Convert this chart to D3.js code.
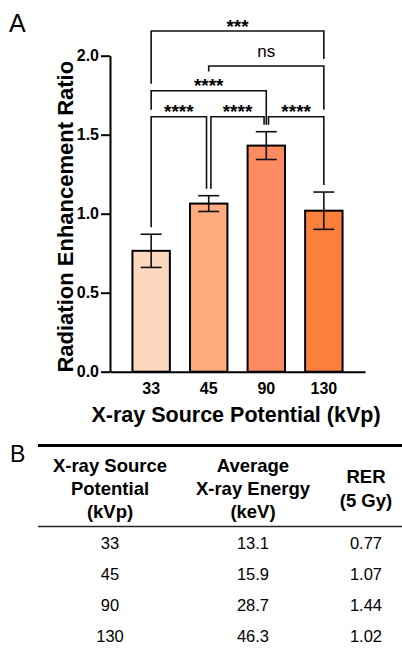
<!DOCTYPE html>
<html>
<head>
<meta charset="utf-8">
<script src="https://cdn.jsdelivr.net/npm/d3@7"></script>
<style>
  body { margin: 0; background: #fff; }
  text { font-family: "Liberation Sans", Arial, sans-serif; fill: #000; }
</style>
</head>
<body>
<div id="chart"></div>
<script>
// bar chart data
const kvp = ["33", "45", "90", "130"];
const rerMean = [0.765, 1.064, 1.431, 1.019];
const rerSd = [0.105, 0.05, 0.088, 0.118];
const barColors = ["#fdd8bf", "#fdab7f", "#fc8b61", "#fd7f3c"];
const yTicks = [0, 0.5, 1.0, 1.5, 2.0];

// significance comparisons (bar index pairs, label, bracket height in y units)
const compA = [0, 1, 0, 0, 1, 2];
const compB = [3, 3, 2, 1, 2, 3];
const compLabel = ["***", "ns", "****", "****", "****", "****"];
const compLevel = [2.156, 1.935, 1.778, 1.614, 1.614, 1.614];

// table data
const tableHead = [["X-ray Source", "Potential", "(kVp)"], ["Average", "X-ray Energy", "(keV)"], ["RER", "(5 Gy)"]];
const energy = ["13.1", "15.9", "28.7", "46.3"];
const rerText = ["0.77", "1.07", "1.44", "1.02"];

const width = 402;
const height = 650;

const svg = d3.select("#chart").append("svg")
    .attr("width", width)
    .attr("height", height);

// scales
const x = d3.scaleBand()
    .domain(kvp)
    .range([110, 365])
    .paddingInner(0.35)
    .paddingOuter(0.39);

const y = d3.scaleLinear()
    .domain([0, 2])
    .range([371.7, 55.7]);

const bw = x.bandwidth();
const cx = i => x(kvp[i]) + bw / 2;
const capW = 10.5;

// panel letters
svg.append("text").attr("x", 9).attr("y", 32).style("font-size", "25px").text("A");
svg.append("text").attr("x", 10).attr("y", 461.5).style("font-size", "23px").text("B");

// bars
svg.selectAll("rect.bar")
    .data(kvp)
    .enter()
    .append("rect")
    .attr("class", "bar")
    .attr("x", d => x(d))
    .attr("y", (d, i) => y(rerMean[i]))
    .attr("width", bw)
    .attr("height", (d, i) => y(0) - y(rerMean[i]))
    .attr("fill", (d, i) => barColors[i])
    .attr("stroke", "#000")
    .attr("stroke-width", 2);

// error bars
const err = svg.append("g").attr("stroke", "#111").attr("stroke-width", 1.6);
kvp.forEach((k, i) => {
    const hi = y(rerMean[i] + rerSd[i]);
    const lo = y(rerMean[i] - rerSd[i]);
    err.append("line").attr("x1", cx(i)).attr("x2", cx(i)).attr("y1", hi).attr("y2", lo);
    err.append("line").attr("x1", cx(i) - capW).attr("x2", cx(i) + capW).attr("y1", hi).attr("y2", hi);
    err.append("line").attr("x1", cx(i) - capW).attr("x2", cx(i) + capW).attr("y1", lo).attr("y2", lo);
});

// axes
const yAxis = svg.append("g")
    .attr("transform", "translate(110,0)")
    .call(d3.axisLeft(y).tickValues(yTicks).tickFormat(d3.format(".1f")).tickSize(9).tickSizeOuter(0).tickPadding(2));

const xAxis = svg.append("g")
    .attr("transform", `translate(0,${y(0)})`)
    .call(d3.axisBottom(x).tickSize(0).tickSizeOuter(0).tickPadding(11));

[yAxis, xAxis].forEach(g => {
    g.select(".domain").attr("stroke", "#000").attr("stroke-width", 2);
    g.selectAll(".tick line").attr("stroke", "#000").attr("stroke-width", 2);
    g.selectAll(".tick text")
        .style("font-family", "'Liberation Sans', Arial, sans-serif")
        .style("font-size", "16px")
        .style("font-weight", "bold")
        .attr("fill", "#000");
});

// axis titles
svg.append("text")
    .attr("transform", `translate(73,${(y(0) + y(2)) / 2 + 3}) rotate(-90)`)
    .attr("text-anchor", "middle")
    .style("font-size", "22px")
    .style("font-weight", "bold")
    .text("Radiation Enhancement Ratio");

svg.append("text")
    .attr("x", 236)
    .attr("y", 421.5)
    .attr("text-anchor", "middle")
    .style("font-size", "21.5px")
    .style("font-weight", "bold")
    .text("X-ray Source Potential (kVp)");

// significance brackets
const shared = (c, i) => compA.some((a, o) => o !== c && compLevel[o] === compLevel[c] && (a === i || compB[o] === i));

const brackets = compA.map((a, c) => {
    const b = compB[c];
    return {
        x1: cx(a) + (shared(c, a) ? 2.2 : 0),
        x2: cx(b) - (shared(c, b) ? 2.2 : 0),
        y: y(compLevel[c]),
        label: compLabel[c]
    };
});

// obstacles that bracket legs stop above
const obstacles = [];
kvp.forEach((k, i) => obstacles.push({ x1: cx(i) - capW, x2: cx(i) + capW, top: y(rerMean[i] + rerSd[i]) }));
brackets.forEach(br => obstacles.push({ x1: br.x1, x2: br.x2, top: br.y }));

const labels = svg.append("g");
brackets.forEach(br => {
    const isNs = br.label === "ns";
    const fs = isNs ? 17 : 19;
    const t = labels.append("text")
        .attr("x", (br.x1 + br.x2) / 2)
        .attr("y", isNs ? br.y - 8.7 : br.y + 1.5)
        .attr("text-anchor", "middle")
        .style("font-size", fs + "px")
        .style("font-weight", isNs ? "normal" : "bold")
        .text(br.label);
    if (!isNs) {
        const w = t.node().getComputedTextLength();
        const mid = (br.x1 + br.x2) / 2;
        obstacles.push({ x1: mid - w / 2, x2: mid + w / 2, top: br.y + 1.5 - 0.72 * fs });
    }
});

const legEnd = (lx, by) => {
    const below = obstacles.filter(o => lx >= o.x1 - 1 && lx <= o.x2 + 1 && o.top > by + 1);
    return d3.min(below, o => o.top) - 7;
};

svg.append("g")
    .selectAll("path")
    .data(brackets)
    .enter()
    .append("path")
    .attr("d", br => `M${br.x1},${legEnd(br.x1, br.y)}V${br.y}H${br.x2}V${legEnd(br.x2, br.y)}`)
    .attr("fill", "none")
    .attr("stroke", "#111")
    .attr("stroke-width", 1.6);

// table B
const colX = [110, 253, 366];
const tbl = svg.append("g");
tbl.append("line").attr("x1", 38).attr("x2", 402).attr("y1", 445.5).attr("y2", 445.5)
    .attr("stroke", "#000").attr("stroke-width", 3);
tbl.append("line").attr("x1", 38).attr("x2", 402).attr("y1", 526.5).attr("y2", 526.5)
    .attr("stroke", "#222").attr("stroke-width", 1.5);

const headLine = 23.3;
tableHead.forEach((lines, c) => {
    const start = 495 - (lines.length - 1) / 2 * headLine;
    tbl.selectAll(null)
        .data(lines)
        .enter()
        .append("text")
        .attr("x", colX[c])
        .attr("y", (d, j) => start + j * headLine)
        .attr("text-anchor", "middle")
        .style("font-size", "18.5px")
        .style("font-weight", "bold")
        .text(d => d);
});

const rowY = d3.scaleLinear().domain([0, 3]).range([548.5, 641.5]);
[kvp, energy, rerText].forEach((col, c) => {
    tbl.selectAll(null)
        .data(col)
        .enter()
        .append("text")
        .attr("x", colX[c])
        .attr("y", (d, i) => rowY(i))
        .attr("text-anchor", "middle")
        .style("font-size", "16.5px")
        .text(d => d);
});
</script>
</body>
</html>
